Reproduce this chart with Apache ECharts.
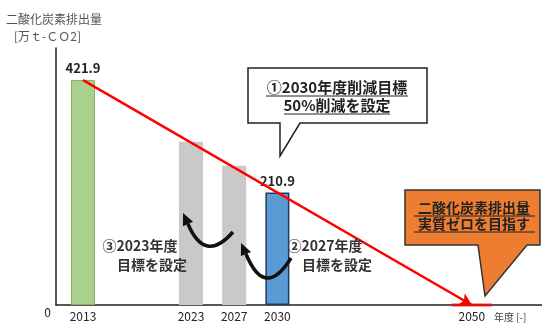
<!DOCTYPE html>
<html>
<head>
<meta charset="utf-8">
<script src="https://cdn.jsdelivr.net/npm/echarts@6/dist/echarts.min.js"></script>
<style>
html,body{margin:0;padding:0;background:#fff;}
#chart{width:542px;height:324px;}
</style>
</head>
<body>
<div id="chart"></div>
<script>
// ---- data ----
const categories = ['', '', '2013', '', '', '', '', '', '', '', '', '', '2023', '', '', '', '2027', '', '', '', '2030',
  '', '', '', '', '', '', '', '', '', '', '', '', '', '', '', '', '', '2050', '', '', '', '', '', ''];
const barYears = ['2013', '2023', '2027', '2030'];
const barValues = [421.9, 306, 261, 210.9];
const labelledYears = ['2013', '2030'];
const startYear = '2013';
const startValue = 421.9;
const targetYear = '2050';
const targetValue = 0;

// ---- styles ----
const FONT = '"Noto Sans CJK JP", "Noto Sans", sans-serif';
const barStyles = {
  '2013': { color: '#a9d18e', borderColor: '#86b067', borderWidth: 1 },
  '2023': { color: '#c9c9c9' },
  '2027': { color: '#c9c9c9' },
  '2030': { color: '#5b9bd5', borderColor: '#1f3a5c', borderWidth: 1.5 }
};

const barData = categories.map(c => {
  const i = barYears.indexOf(c);
  if (i < 0 || c === '') return '-';
  return {
    value: barValues[i],
    itemStyle: barStyles[c],
    label: { show: labelledYears.indexOf(c) >= 0 }
  };
});

const chart = echarts.init(document.getElementById('chart'), null, { renderer: 'canvas' });

function underline(x1, x2, y) {
  return { type: 'line', shape: { x1: x1, y1: y, x2: x2, y2: y }, style: { stroke: '#222', lineWidth: 1 }, z: 20 };
}

function curvedArrow(p0, c, p2, tip, color) {
  const dx = p2[0] - c[0], dy = p2[1] - c[1];
  const len = Math.sqrt(dx * dx + dy * dy);
  const px = -dy / len * 5.5, py = dx / len * 5.5;
  return [
    { type: 'bezierCurve', shape: { x1: p0[0], y1: p0[1], cpx1: c[0], cpy1: c[1], x2: p2[0], y2: p2[1] },
      style: { stroke: color, lineWidth: 3.5, fill: null }, z: 20 },
    { type: 'polygon', shape: { points: [[p2[0] + px, p2[1] + py], tip, [p2[0] - px, p2[1] - py]] },
      style: { fill: color }, z: 20 }
  ];
}

const option = {
  animation: false,
  backgroundColor: '#fff',
  grid: { left: 56, top: 48, right: 0, bottom: 19, containLabel: false },
  xAxis: {
    type: 'category',
    data: categories,
    axisLine: { lineStyle: { color: '#222', width: 1.5 } },
    axisTick: { show: false },
    axisLabel: { interval: 0, color: '#222', fontSize: 12, fontFamily: FONT, margin: 5 },
    name: '年度 [-]',
    nameLocation: 'end',
    nameGap: -48,
    nameTextStyle: { color: '#444', fontSize: 10, fontFamily: FONT, verticalAlign: 'top', padding: [7, 0, 0, 0] }
  },
  yAxis: {
    type: 'value',
    min: 0,
    max: 482,
    axisLine: { show: true, lineStyle: { color: '#222', width: 1.5 } },
    axisTick: { show: false },
    splitLine: { show: false },
    axisLabel: {
      formatter: v => (v === 0 ? '0' : ''),
      color: '#222', fontSize: 12, fontFamily: FONT, margin: 5, verticalAlign: 'top', padding: [1, 0, 0, 0]
    }
  },
  series: [
    {
      type: 'bar',
      data: barData,
      barWidth: 24,
      label: {
        position: 'top',
        distance: 5,
        color: '#222',
        fontSize: 13,
        fontWeight: 'bold',
        fontFamily: FONT,
        formatter: p => String(p.value)
      },
      markLine: {
        silent: true,
        symbol: ['none', 'arrow'],
        symbolSize: [10, 12],
        label: { show: false },
        lineStyle: { color: '#ff0000', width: 2.5, type: 'solid' },
        data: [[
          { coord: [categories.indexOf(startYear), startValue] },
          { coord: [categories.indexOf(targetYear), targetValue] }
        ]],
        z: 5
      }
    },
    {
      type: 'scatter',
      data: [[categories.indexOf(targetYear), targetValue]],
      symbol: 'rect',
      symbolSize: [40, 3],
      itemStyle: { color: '#ff0000' },
      z: 4
    }
  ],
  graphic: [
    // y axis title
    { type: 'text', left: 6, top: 13, style: { text: '二酸化炭素排出量', fill: '#555', font: '12px ' + FONT } },
    { type: 'text', left: 14, top: 30, style: { text: '[万ｔ-ＣＯ2]', fill: '#555', font: '12px ' + FONT } },

    // bubble 1
    { type: 'polygon', shape: { points: [[248, 68], [427, 68], [427, 123], [300, 123], [280, 156], [280, 123], [248, 123]] },
      style: { fill: '#fff', stroke: '#222', lineWidth: 1.5 }, z: 15 },
    { type: 'text', x: 337, y: 87, style: { text: '①2030年度削減目標', fill: '#222', font: 'bold 15px ' + FONT, align: 'center', verticalAlign: 'middle' }, z: 20 },
    { type: 'text', x: 337, y: 105, style: { text: '50%削減を設定', fill: '#222', font: 'bold 15px ' + FONT, align: 'center', verticalAlign: 'middle' }, z: 20 },
    underline(266, 408, 96),
    underline(284, 390, 114),

    // bubble 2
    { type: 'polygon', shape: { points: [[405, 190], [540, 190], [540, 245], [527, 245], [485, 296], [478, 245], [405, 245]] },
      style: { fill: '#ed7d31', stroke: '#333', lineWidth: 1.5 }, z: 15 },
    { type: 'text', x: 474, y: 208, style: { text: '二酸化炭素排出量', fill: '#222', font: 'bold 14px ' + FONT, align: 'center', verticalAlign: 'middle' }, z: 20 },
    { type: 'text', x: 474, y: 224, style: { text: '実質ゼロを目指す', fill: '#222', font: 'bold 14px ' + FONT, align: 'center', verticalAlign: 'middle' }, z: 20 },
    underline(414, 535, 216),
    underline(414, 535, 232),

    // annotations
    { type: 'text', x: 140, y: 246, style: { text: '③2023年度', fill: '#333', font: 'bold 14px ' + FONT, align: 'center', verticalAlign: 'middle' }, z: 20 },
    { type: 'text', x: 152, y: 265, style: { text: '目標を設定', fill: '#333', font: 'bold 14px ' + FONT, align: 'center', verticalAlign: 'middle' }, z: 20 },
    { type: 'text', x: 325, y: 246, style: { text: '②2027年度', fill: '#333', font: 'bold 14px ' + FONT, align: 'center', verticalAlign: 'middle' }, z: 20 },
    { type: 'text', x: 337, y: 265, style: { text: '目標を設定', fill: '#333', font: 'bold 14px ' + FONT, align: 'center', verticalAlign: 'middle' }, z: 20 }
  ]
    .concat(curvedArrow([233, 232], [205, 264], [188, 224], [183, 213], '#111'))
    .concat(curvedArrow([291, 258], [265, 300], [246, 254], [241, 243], '#111'))
};

chart.setOption(option);
</script>
</body>
</html>
